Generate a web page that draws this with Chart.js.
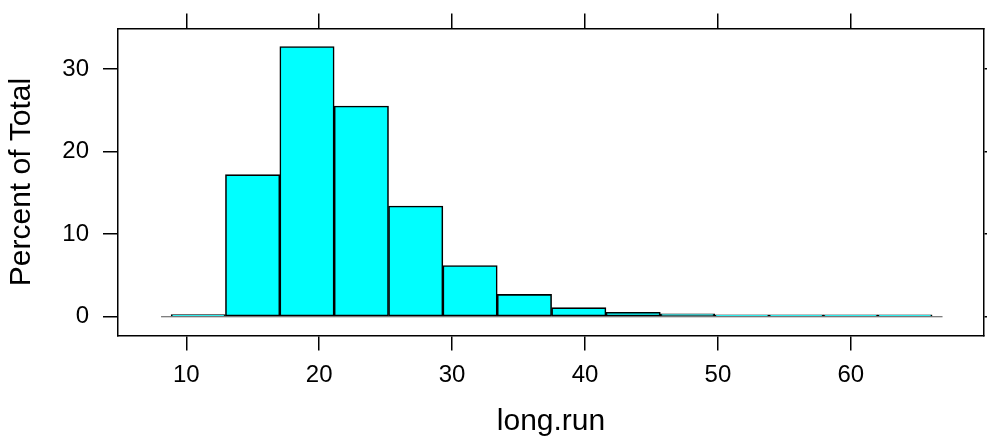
<!DOCTYPE html>
<html>
<head>
<meta charset="utf-8">
<script src="https://cdn.jsdelivr.net/npm/chart.js@4.4.1/dist/chart.umd.min.js"></script>
<style>
  html, body { margin:0; padding:0; background:#fff; }
  #wrap { width:987px; height:438px; }
</style>
</head>
<body>
<div id="wrap"><canvas id="chartHist"></canvas></div>
<script>
// ── Data ──
const binMids   = [10.90, 14.99, 19.08, 23.17, 27.26, 31.35, 35.44, 39.53, 43.62, 47.71, 51.80, 55.89, 59.98, 64.07];
const pctTotal  = [0.25, 17.2, 32.7, 25.5, 13.4, 6.2, 2.7, 1.1, 0.55, 0.35, 0.12, 0.06, 0.04, 0.03];
const xTicks    = [10, 20, 30, 40, 50, 60];
const yTicks    = [0, 10, 20, 30];
const baseLineX = [8.1, 66.9];
const xRange    = [4.86, 70.02];
const yRange    = [-2.28, 34.9];

const FONT = 'Liberation Sans, Arial, Helvetica, sans-serif';
Chart.defaults.color = '#000';
Chart.defaults.font.family = FONT;

// ── Shared axis pieces ──
const gridOpts = { drawOnChartArea: false, drawTicks: true, tickLength: 15, color: '#000', lineWidth: 1.5 };
const borderOpts = { display: true, color: '#000', width: 1.5 };
const setTicks = list => scale => { scale.ticks = list.map(v => ({ value: v })); };

const scales = {
  x: {
    type: 'linear', position: 'bottom', offset: false,
    min: xRange[0], max: xRange[1],
    afterBuildTicks: setTicks(xTicks),
    afterFit: s => { s.height = 102.4; },
    grid: { ...gridOpts, offset: false }, border: borderOpts,
    ticks: { font: { size: 24 }, padding: 10, maxRotation: 0, autoSkip: false },
    title: { display: true, text: 'long.run', font: { size: 30, lineHeight: 1 }, padding: { top: 0, bottom: 1.5 } }
  },
  x2: {
    type: 'linear', position: 'top', offset: false,
    min: xRange[0], max: xRange[1],
    afterBuildTicks: setTicks(xTicks),
    afterFit: s => { s.height = 27; },
    grid: { ...gridOpts, offset: false }, border: borderOpts,
    ticks: { display: false }
  },
  y: {
    type: 'linear', position: 'left',
    min: yRange[0], max: yRange[1],
    afterBuildTicks: setTicks(yTicks),
    afterFit: s => { s.width = 118; },
    grid: gridOpts, border: borderOpts,
    ticks: { font: { size: 24 }, padding: 14 },
    title: { display: true, text: 'Percent of Total', font: { size: 30, lineHeight: 1 }, padding: { top: 7, bottom: 0 } }
  },
  y2: {
    type: 'linear', position: 'right',
    min: yRange[0], max: yRange[1],
    afterBuildTicks: setTicks(yTicks),
    afterFit: s => { s.width = 3; },
    grid: gridOpts, border: borderOpts,
    ticks: { display: false }
  }
};

// ── Histogram ──
const ctx = document.getElementById('chartHist').getContext('2d');
const chartHist = new Chart(ctx, {
  type: 'bar',
  data: {
    datasets: [
      {
        type: 'bar',
        label: 'Percent of Total',
        data: binMids.map((m, i) => ({ x: m, y: pctTotal[i] })),
        backgroundColor: '#00ffff',
        borderColor: '#000',
        borderWidth: 1.6,
        borderSkipped: false,
        minBarLength: 2,
        barPercentage: 1,
        categoryPercentage: 1,
        xAxisID: 'x', yAxisID: 'y',
        order: 1
      },
      {
        type: 'line',
        label: 'base',
        data: baseLineX.map(v => ({ x: v, y: 0 })),
        borderColor: '#555',
        borderWidth: 1,
        pointRadius: 0,
        fill: false,
        xAxisID: 'x', yAxisID: 'y',
        order: 2
      }
    ]
  },
  options: {
    responsive: true,
    maintainAspectRatio: false,
    devicePixelRatio: 1,
    animation: false,
    layout: { padding: 0 },
    plugins: { legend: { display: false }, tooltip: { enabled: false } },
    scales
  }
});
</script>
</body>
</html>
